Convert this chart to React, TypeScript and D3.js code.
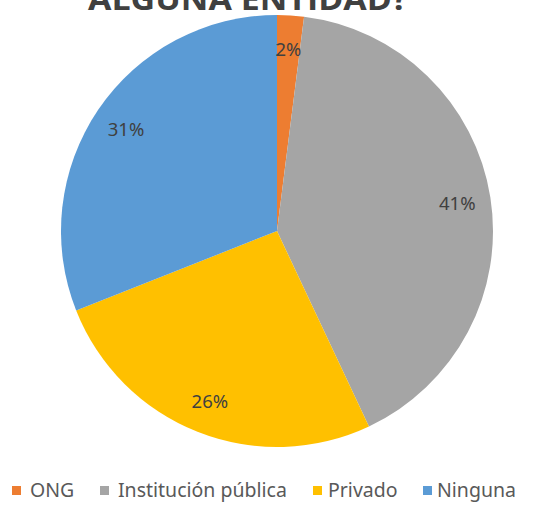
import React from "react";
import * as d3 from "d3";

const categories = ["ONG", "Institución pública", "Privado", "Ninguna"];
const values = [2, 41, 26, 31];
const colors = ["#ED7D31", "#A5A5A5", "#FFC000", "#5B9BD5"];
const title = "ALGUNA ENTIDAD?";

const W = 555;
const H = 508;
const cx = 277;
const cy = 231;
const R = 216;

export default function App() {
  const pie = d3.pie<number>().sort(null).value((d) => d)(values);
  const arc = d3.arc<d3.PieArcDatum<number>>().innerRadius(0).outerRadius(R);
  const labelArc = d3.arc<d3.PieArcDatum<number>>().innerRadius(R * 0.845).outerRadius(R * 0.845);
  const total = d3.sum(values);
  const legendX = [12, 100, 313, 423];
  const textX = [18, 18, 15, 14];
  return (
    <svg width={W} height={H} style={{ position: "absolute", left: 0, top: 0, background: "#fff" }}>
      <text x={248} y={10} textAnchor="middle" fontFamily="'Open Sans', 'Noto Sans', sans-serif" fontWeight="bold" fontSize={30} fill="#404040" textLength={320} lengthAdjust="spacingAndGlyphs">{title}</text>
      <g transform={`translate(${cx},${cy})`}>
        {pie.map((p, i) => (
          <path key={i} d={arc(p) || ""} fill={colors[i]} />
        ))}
        {pie.map((p, i) => {
          const [x, y] = labelArc.centroid(p);
          return (
            <text key={"l" + i} x={x} y={y} textAnchor="middle" dominantBaseline="central" fontFamily="'Noto Sans', sans-serif" fontSize={18.5} fill="#404040">
              {Math.round((p.value / total) * 100)}%
            </text>
          );
        })}
      </g>
      {categories.map((c, i) => (
        <g key={"g" + i} transform={`translate(${legendX[i]},0)`}>
          <rect x={0} y={486} width={9} height={9} fill={colors[i]} />
          <text x={textX[i]} y={497} fontFamily="'Noto Sans', sans-serif" fontSize={19.5} fill="#595959">{c}</text>
        </g>
      ))}
    </svg>
  );
}
